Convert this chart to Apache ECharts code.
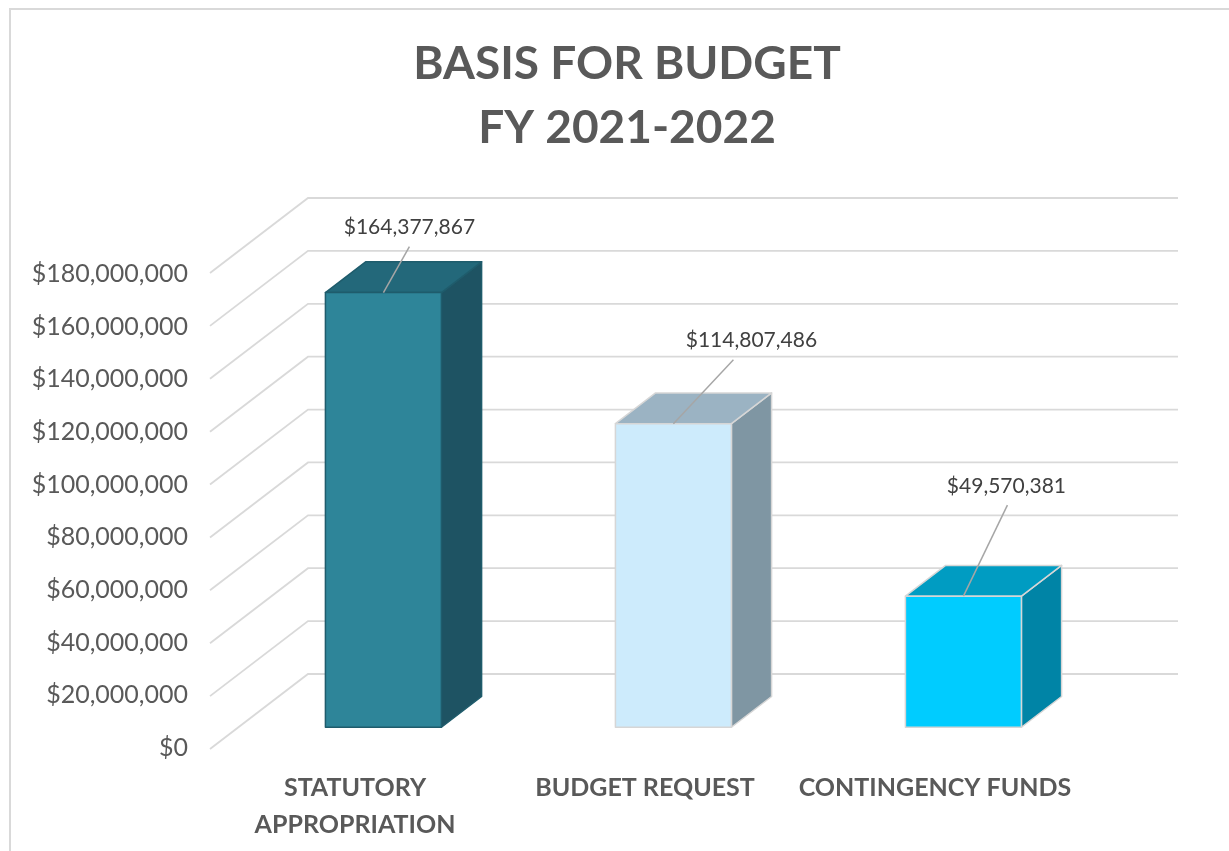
<!DOCTYPE html>
<html>
<head>
<meta charset="utf-8">
<title>Basis for Budget FY 2021-2022</title>
<script src="https://cdn.jsdelivr.net/npm/echarts@6/dist/echarts.min.js"></script>
<style>
  html, body { margin: 0; padding: 0; background: #ffffff; }
  #chart { width: 1229px; height: 851px; }
</style>
</head>
<body>
<div id="chart"></div>
<script>
// ---- data ----
const categories = ['STATUTORY\nAPPROPRIATION', 'BUDGET REQUEST', 'CONTINGENCY FUNDS'];
const amounts = [164377867, 114807486, 49570381];
const yTicks = [0, 20000000, 40000000, 60000000, 80000000, 100000000, 120000000, 140000000, 160000000, 180000000];

// ---- styling ----
const frontColors = ['#2e8599', '#cdebfc', '#00ccff'];
const topColors   = ['#23687a', '#9bb3c3', '#009cc2'];
const sideColors  = ['#1e5363', '#7f96a3', '#0084a6'];
const edgeColors  = ['#1f5c6c', '#d6d6d6', '#d6d6d6'];
// label placement relative to the top-front centre of each box, and leader start shift
const labelNudge = [[26, -65], [78, -83], [43, -110]];
const leaderShift = [0, -18, 1];

const DEPTH_X = 98;   // horizontal run of the floor, back wall to front edge
const DEPTH_Y = 75;   // vertical drop of the floor
const FRONT = 0.71;   // depth fraction of the box's front face
const BACK = 0.30;    // depth fraction of the box's back face
const GRID_GRAY = '#d9d9d9';
const TEXT_GRAY = '#595959';
const FONT = 'Lato, "Open Sans", sans-serif';

const money = v => '$' + Math.round(v).toLocaleString('en-US');

const chart = echarts.init(document.getElementById('chart'), null, { renderer: 'canvas' });

// back wall grid lines with the slanted run along the side wall
function renderWall(params, api) {
  const cs = params.coordSys;
  const p = api.coord([0, api.value(0)]);
  const y = p[1];
  return {
    type: 'polyline',
    shape: { points: [[cs.x - DEPTH_X, y + DEPTH_Y], [cs.x, y], [cs.x + cs.width, y]] },
    style: { stroke: GRID_GRAY, lineWidth: 1.8, fill: null },
    silent: true
  };
}

// one oblique 3-D column per category
function renderBox(params, api) {
  const i = params.dataIndex;
  const top = api.coord([api.value(0), api.value(1)]);
  const base = api.coord([api.value(0), 0]);
  const band = api.size([1, 0])[0];
  const w = band * 0.4;
  const fx = -DEPTH_X * FRONT, fy = DEPTH_Y * FRONT;
  const bx = -DEPTH_X * BACK, by = DEPTH_Y * BACK;
  const l = top[0] - w / 2, r = top[0] + w / 2;
  const fl = l + fx, fr = r + fx, ft = top[1] + fy, fb = base[1] + fy;
  const bl = l + bx, br = r + bx, bt = top[1] + by, bb = base[1] + by;
  const edge = { stroke: edgeColors[i], lineWidth: 1.5, lineJoin: 'round' };
  const cx = (fl + fr) / 2;
  const lx = cx + labelNudge[i][0], ly = ft + labelNudge[i][1];
  return {
    type: 'group',
    children: [
      { type: 'polygon', shape: { points: [[fr, ft], [br, bt], [br, bb], [fr, fb]] },
        style: Object.assign({ fill: sideColors[i] }, edge) },
      { type: 'polygon', shape: { points: [[fl, ft], [fr, ft], [br, bt], [bl, bt]] },
        style: Object.assign({ fill: topColors[i] }, edge) },
      { type: 'rect', shape: { x: fl, y: ft, width: fr - fl, height: fb - ft },
        style: Object.assign({ fill: frontColors[i] }, edge) },
      { type: 'line', shape: { x1: lx + leaderShift[i], y1: ly + 19, x2: cx, y2: ft },
        style: { stroke: '#a6a6a6', lineWidth: 1.5 } },
      { type: 'text', x: lx, y: ly,
        style: { text: money(api.value(1)), fill: '#404040', fontSize: 21,
                 fontFamily: FONT, align: 'center', verticalAlign: 'middle' } }
    ]
  };
}

const option = {
  backgroundColor: '#ffffff',
  animation: false,
  title: {
    text: 'BASIS FOR BUDGET\nFY 2021-2022',
    left: 622, top: 27, textAlign: 'center',
    textStyle: { color: TEXT_GRAY, fontSize: 46, fontWeight: 'bold', lineHeight: 64, fontFamily: FONT }
  },
  graphic: [{
    type: 'rect', shape: { x: 10, y: 9, width: 1400, height: 1000 },
    style: { fill: null, stroke: GRID_GRAY, lineWidth: 2 }, silent: true, z: -10
  }],
  grid: [
    // back wall plane
    { left: 308, right: 51, top: 198, bottom: 177, containLabel: false },
    // front edge plane, carries the visible axis labels
    { left: 210, right: 149, top: 274, bottom: 103, containLabel: false }
  ],
  xAxis: [
    { gridIndex: 0, type: 'category', data: categories, boundaryGap: true, show: false },
    { gridIndex: 1, type: 'category', data: categories, boundaryGap: true,
      axisLine: { show: false }, axisTick: { show: false },
      axisLabel: { margin: 21, color: TEXT_GRAY, fontSize: 25, fontWeight: 'bold', lineHeight: 37,
                   fontFamily: FONT, interval: 0 } }
  ],
  yAxis: [
    { gridIndex: 0, type: 'value', min: yTicks[0], max: yTicks[yTicks.length - 1],
      interval: yTicks[1] - yTicks[0], show: false },
    { gridIndex: 1, type: 'value', min: yTicks[0], max: yTicks[yTicks.length - 1],
      interval: yTicks[1] - yTicks[0],
      axisLine: { show: false }, axisTick: { show: false }, splitLine: { show: false },
      axisLabel: { margin: 22, color: TEXT_GRAY, fontSize: 25, padding: [0, 0, 6, 0],
                   fontFamily: FONT, formatter: money } }
  ],
  series: [
    { type: 'custom', xAxisIndex: 0, yAxisIndex: 0, z: 1, silent: true,
      data: yTicks.map(v => [v]), encode: { y: 0 }, renderItem: renderWall, clip: false },
    { type: 'custom', xAxisIndex: 0, yAxisIndex: 0, z: 5, silent: true,
      data: amounts.map((v, i) => [i, v]), encode: { x: 0, y: 1 }, renderItem: renderBox, clip: false }
  ]
};

chart.setOption(option);
</script>
</body>
</html>
